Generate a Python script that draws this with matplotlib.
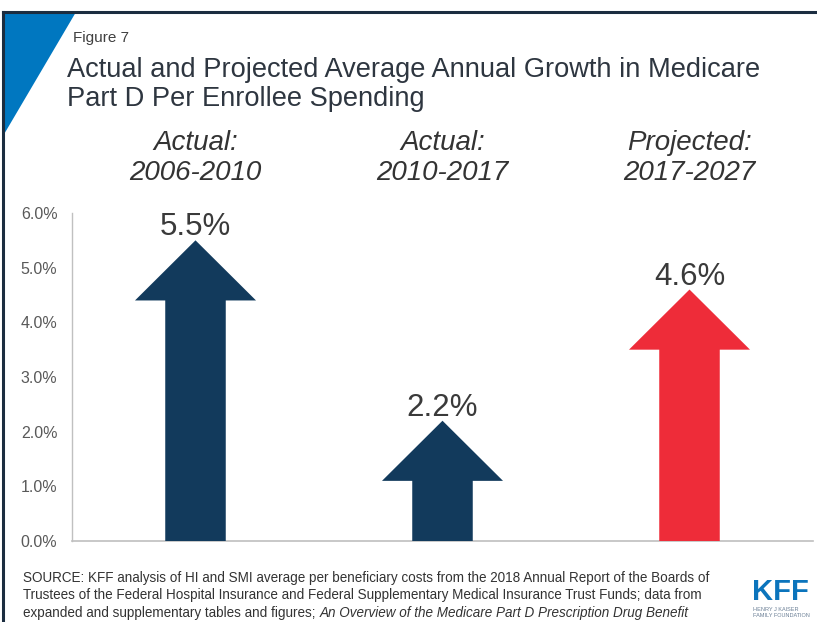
import matplotlib.pyplot as plt
from matplotlib.patches import Polygon
from matplotlib.lines import Line2D

periods = ["Actual:\n2006-2010", "Actual:\n2010-2017", "Projected:\n2017-2027"]
growth = [5.5, 2.2, 4.6]
arrow_colors = ["#123A5C", "#123A5C", "#EE2C39"]
yticks = [0, 1, 2, 3, 4, 5, 6]

plt.rcParams["font.family"] = ["Liberation Sans", "DejaVu Sans"]

W, H = 817, 622
fig = plt.figure(figsize=(W / 100, H / 100), dpi=100)
fig.patch.set_facecolor("white")


def fx(px):
    return px / W


def fy(px):
    return 1 - px / H


# slide frame: navy rule on top and left, blue corner triangle
fig.add_artist(Line2D([fx(3), fx(3)], [0, fy(12)], color="#1B2D40", lw=2.2,
                      transform=fig.transFigure))
fig.add_artist(Line2D([fx(3), 1], [fy(12), fy(12)], color="#1B2D40", lw=2.2,
                      transform=fig.transFigure))
fig.add_artist(Polygon([[fx(3), fy(12)], [fx(76), fy(12)], [fx(3), fy(136)]],
                       closed=True, color="#0077C0", transform=fig.transFigure, lw=0))

fig.text(fx(73), fy(42), "Figure 7", fontsize=11, color="#404040", va="baseline")
# multi-line text with va="baseline" anchors on the last line
fig.text(fx(67), fy(106),
         "Actual and Projected Average Annual Growth in Medicare\nPart D Per Enrollee Spending",
         fontsize=19.6, color="#2E3640", va="baseline", linespacing=1.15)

ax = fig.add_axes([fx(72), 81 / H, 741 / W, 328 / H])
ax.set_xlim(-0.5, 2.5)
ax.set_ylim(0, 6)
px_per_unit = 328 / 6

for i, (v, c) in enumerate(zip(growth, arrow_colors)):
    ax.arrow(i, 0, 0, v, width=0.245, head_width=0.49, head_length=1.1,
             length_includes_head=True, color=c, lw=0, zorder=3)
    ax.annotate(f"{v:.1f}%", (i, v), xytext=(0, 3.5), textcoords="offset points",
                ha="center", va="baseline", fontsize=22.5, color="#3A3A3A")
    ax.text(i, 6.0 + 33 / px_per_unit, periods[i], ha="center", va="baseline",
            fontsize=20, style="italic", color="#333333", linespacing=1.22,
            clip_on=False)

ax.set_yticks(yticks)
ax.set_yticklabels([f"{t:.1f}%" for t in yticks], fontsize=11.5, color="#595959")
ax.set_xticks([])
ax.tick_params(axis="y", length=0, pad=10.5)
for s in ["top", "right"]:
    ax.spines[s].set_visible(False)
ax.spines["left"].set_color("#C0C0C0")
ax.spines["bottom"].set_color("#BFBFBF")
ax.spines["left"].set_linewidth(1)
ax.spines["bottom"].set_linewidth(1.2)

src_kw = dict(fontsize=9.75, color="#333333")
fig.text(fx(23), fy(599),
         "SOURCE: KFF analysis of HI and SMI average per beneficiary costs from the 2018 Annual Report of the Boards of\n"
         "Trustees of the Federal Hospital Insurance and Federal Supplementary Medical Insurance Trust Funds; data from",
         va="baseline", linespacing=1.28, **src_kw)
src3 = fig.text(fx(23), fy(620), "expanded and supplementary tables and figures; ",
                va="bottom", **src_kw)
fig.add_artist(plt.Annotation("An Overview of the Medicare Part D Prescription Drug Benefit",
                              xy=(1, 0), xycoords=src3, va="bottom", ha="left",
                              style="italic", **src_kw))

# KFF wordmark
fig.text(fx(752), fy(600), "KFF", fontsize=21, weight="bold", color="#0B74BC", va="baseline")
fig.text(fx(753), fy(617), "HENRY J KAISER\nFAMILY FOUNDATION", fontsize=4.0,
         color="#6A7F95", va="baseline", linespacing=1.25)

fig.savefig("out.png", dpi=100, facecolor="white")
